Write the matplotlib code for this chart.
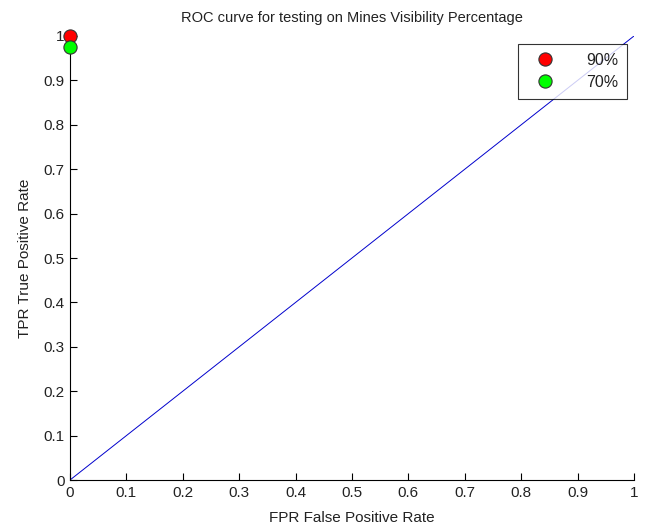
import matplotlib
matplotlib.use("Agg")
import matplotlib.pyplot as plt
import numpy as np

plt.rcParams['font.family'] = ['Liberation Sans', 'DejaVu Sans']

diag_x = [0, 1]
diag_y = [0, 1]
labels = ['90%', '70%']
fpr = [0.0, 0.0]
tpr = [1.0, 0.975]
colors = ['#ff0000', '#00ff00']
ticks = [0, 0.1, 0.2, 0.3, 0.4, 0.5, 0.6, 0.7, 0.8, 0.9, 1]
tick_labels = ['0', '0.1', '0.2', '0.3', '0.4', '0.5', '0.6', '0.7', '0.8', '0.9', '1']

fig = plt.figure(figsize=(6.52, 5.27), dpi=100)
ax = fig.add_axes([70/652, 47/527, 564/652, 444/527])

ax.plot(diag_x, diag_y, color='#0000cc', linewidth=0.7, zorder=2)
for x, y, c, l in zip(fpr, tpr, colors, labels):
    ax.plot([x], [y], 'o', color=c, markeredgecolor='#333333', markersize=9.5,
            markeredgewidth=0.8, label=l, clip_on=False, zorder=5)

ax.set_xlim(0, 1)
ax.set_ylim(0, 1)
ax.set_xticks(ticks)
ax.set_xticklabels(tick_labels)
ax.set_yticks(ticks)
ax.set_yticklabels(tick_labels)
ax.tick_params(direction='in', length=5, labelsize=11, colors='black', pad=4, labelcolor='#222222')
for s in ['top', 'right']:
    ax.spines[s].set_visible(False)
ax.set_xlabel('FPR False Positive Rate', fontsize=11, labelpad=8, color='#222222')
ax.set_ylabel('TPR True Positive Rate', fontsize=11, labelpad=8, color='#222222')
ax.set_title('ROC curve for testing on Mines Visibility Percentage', fontsize=10.5, pad=10, color='#222222')

leg = ax.legend(loc='upper right', bbox_to_anchor=(1.002, 1.0), fontsize=11.5,
                frameon=True, fancybox=False, edgecolor='black', handletextpad=1.5,
                borderpad=0.55, labelspacing=0.45, handlelength=2.2)
leg.get_frame().set_linewidth(0.8)
for t in leg.get_texts():
    t.set_color('#222222')
leg.set_zorder(10)

fig.savefig('out.png', dpi=100)
